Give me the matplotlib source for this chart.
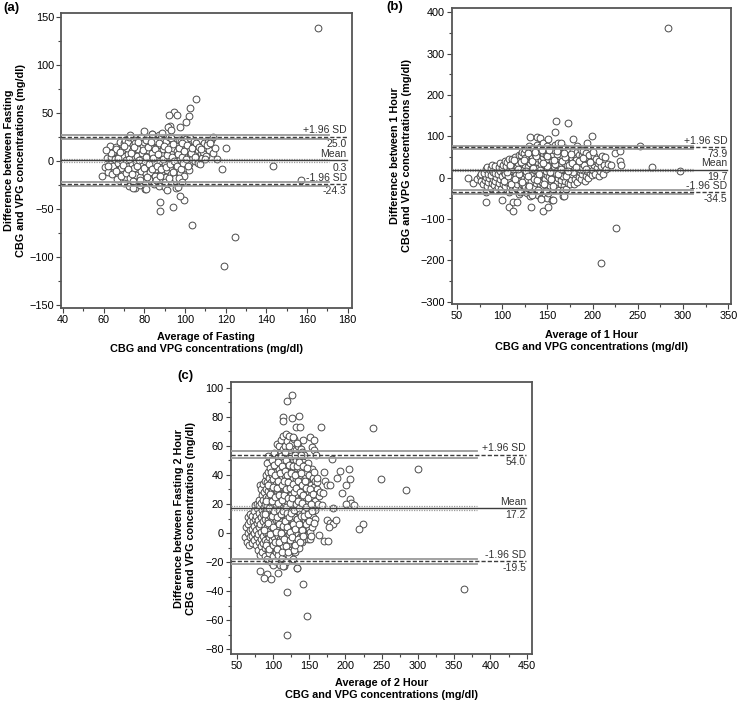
import numpy as np
import matplotlib
matplotlib.use('Agg')
import matplotlib.pyplot as plt
from matplotlib.ticker import MultipleLocator

plt.rcParams['font.family'] = ['Liberation Sans', 'DejaVu Sans']

# (average, difference) pairs, panel (a) fasting
fasting_pts = [
    (59.3,-16),(60.8,-7),(61.5,3),(62.2,-12),(62.9,15),(63.4,4),(63.1,-3),
    (64.2,-14),(64.8,-6),(65.3,2),(64.5,9),(65.9,14),(66.4,-19),
    (66.8,-10),(67.2,-2),(67.6,6),(66.1,12),(68.3,-16),(67.9,20),
    (68.7,-8),(69.1,0),(69.4,5),(68.9,11),(69.8,18),(70.2,-23),(70.5,22),
    (70.9,-13),(71.3,-5),(71.0,1),(71.7,7),(71.4,13),(72.1,19),(72.6,25),(72.3,-26),
    (73.0,-18),(73.4,-10),(73.8,-3),(73.2,4),(74.1,10),(74.5,16),(74.9,22),(72.8,27),(74.2,-21),
    (75.3,-28),(75.7,-15),(75.1,-8),(76.0,-1),(76.4,5),(76.8,12),(75.6,18),(77.2,23),
    (77.6,-25),(77.9,-17),(78.3,-11),(78.7,-4),(78.1,2),(79.0,8),(79.4,15),(79.8,20),(78.5,25),
    (80.2,-22),(80.6,-14),(81.0,-7),(80.4,0),(81.3,6),(81.7,11),(82.1,17),(80.9,22),(80.0,31),(80.3,-30),
    (82.5,-19),(82.9,-12),(83.3,-5),(82.7,1),(83.7,8),(84.1,14),(84.5,19),(83.5,24),(83.9,28),
    (84.9,-24),(85.3,-16),(85.7,-9),(85.1,-2),(86.1,4),(86.5,10),(86.9,16),(85.5,21),(87.3,27),
    (87.7,-20),(88.1,-13),(88.5,-6),(87.9,0),(88.9,6),(89.3,12),(89.7,18),(88.3,24),(88.8,29),(87.4,-26),
    (90.1,-27),(90.5,-17),(90.9,-10),(90.3,-3),(91.3,3),(91.7,9),(92.1,15),(90.7,21),(91.9,25),(91.3,-31),
    (92.5,-22),(92.9,-14),(93.3,-7),(92.7,0),(93.7,7),(94.1,13),(94.5,19),(93.1,24),
    (94.9,-18),(95.3,-9),(95.7,-2),(95.1,4),(96.1,10),(96.5,16),(96.9,22),(95.5,-28),
    (97.3,-23),(97.7,-13),(98.1,-5),(97.5,2),(98.5,9),(98.9,15),(97.9,21),(99.3,24),
    (99.7,-16),(100.1,-8),(100.5,-1),(99.9,6),(100.9,13),(101.3,19),(100.3,23),
    (101.7,-10),(102.1,-3),(102.5,5),(101.9,11),(103.0,17),(102.4,24),
    (103.6,2),(104.0,9),(104.5,15),(104.2,21),(105.0,0),(105.5,7),(105.8,13),
    (106.4,-2),(106.8,4),(106.2,11),(107.5,-3),(107.8,8),(108.5,3),(109.0,9),
    (108.8,16),(109.5,18),(110.2,5),(110.8,13),(111.4,20),(112.0,11),(112.7,22),
    (113.5,25),(113.9,8),(114.6,13),(115.6,2),
    (65.8,-11),(67.0,3),(68.0,9),(69.5,-4),(70.0,15),(71.8,-9),(72.5,2),(73.5,8),
    (74.0,-14),(75.0,14),(76.2,-5),(76.9,20),(77.5,1),(78.0,-20),(79.2,11),(79.8,-8),
    (80.8,4),(81.5,-17),(81.9,14),(82.3,-3),(83.0,20),(83.8,-9),(84.3,3),(85.0,12),
    (85.8,-20),(86.3,-5),(86.8,7),(87.2,18),(87.6,-16),(88.4,-9),(89.0,2),(89.5,15),
    (89.9,-22),(90.6,-7),(91.0,6),(91.5,12),(92.3,-18),(92.8,-3),(93.5,4),(93.9,17),
    (94.3,-12),(94.8,0),(95.9,-6),(96.3,7),(96.8,13),(97.1,-18),(97.8,-9),(98.3,4),
    (98.7,18),(99.1,-2),(99.5,10),(100.4,2),(100.8,16),(101.5,-6),(102.8,8),(103.4,13),
    (104.8,4),(105.2,18),(63.5,8),(62.0,-6),(61.0,11),(106.9,14),(108.0,12),(109.8,2),
    (111.0,16),(112.4,18),
    (165.3,138.6),(105.5,64),(102.2,55.3),(94.8,50.5),(96.2,47.7),(92.0,47.7),
    (101.7,46.7),(100.6,40.4),(97.3,35.6),(92.7,36.3),(91.6,35.6),(93.2,32.4),
    (83.9,27.6),(120.2,13.7),(118.1,-8.5),(143.2,-5.0),(157.1,-19.9),(87.8,-42.8),
    (87.5,-52.2),(94.0,-48.0),(99.4,-40.7),(97.3,-36.6),(103.5,-67.1),(124.5,-79.6),
    (119.1,-110.1),(81.0,-29.6),(74.4,-28.3),(96.5,-27.9),(98.3,-22.7),
]

# panel (b) 1 hour
hour1_pts = [
    (62,0),(68,-12),(72.5,-3),(75.5,4),(77,-8),(76.5,10),
    (79,-15),(80.5,-5),(81.5,2),(79.5,12),(82,20),(81.8,-34),
    (83,-20),(84.5,-10),(85.5,0),(84,8),(86,18),(83.5,25),(81.8,-58),
    (87,-25),(88.5,-12),(89.5,-3),(87.5,6),(90,15),(88,24),(89,30),
    (91,-18),(92.5,-8),(93.5,2),(91.5,11),(94,20),(92,28),(93,-30),
    (95,-22),(96.5,-12),(97.5,-2),(95.5,8),(98,17),(96,26),(97,35),
    (99,-27),(100.5,-15),(101.5,-5),(99.5,5),(102,14),(100,23),(101,32),(103,40),(100,-54),
    (103,-20),(104.5,-10),(105.5,0),(103.5,10),(106,19),(104,28),(105,38),(107,45),
    (107,-35),(108.5,-22),(109.5,-12),(107.5,-2),(110,8),(108,17),(109,27),(111,36),(110.5,46),(107.7,-70),
    (111,-30),(112.5,-18),(113.5,-8),(111.5,2),(114,12),(112,22),(113,31),(115,40),(114.5,50),(112,-80),(111.4,-59),
    (115,-25),(116.5,-14),(117.5,-4),(115.5,6),(118,16),(116,26),(117,35),(119,45),(118.5,55),(116.6,-59),
    (119,-40),(120.5,-28),(121.5,-16),(119.5,-6),(122,4),(120,14),(121,24),(123,34),(122.5,44),(120.5,54),(121.5,62),
    (123,-33),(124.5,-20),(125.5,-10),(123.5,0),(126,10),(124,20),(125,30),(127,40),(126.5,50),(124.5,60),(125.5,70),(125,-21),
    (127,-38),(128.5,-26),(129.5,-14),(127.5,-4),(130,6),(128,16),(129,26),(131,36),(130.5,46),(128.5,56),(129.5,66),(130,76),
    (131,-45),(132.5,-30),(133.5,-18),(131.5,-8),(134,2),(132,12),(133,22),(135,32),(134.5,42),(132.5,52),(133.5,62),(134,72),(130.6,99.6),(131.7,-70),
    (135,-35),(136.5,-22),(137.5,-12),(135.5,-2),(138,8),(136,18),(137,28),(139,38),(138.5,48),(136.5,58),(137.5,68),(138,80),(138,98),
    (139,-42),(140.5,-28),(141.5,-16),(139.5,-6),(142,4),(140,14),(141,24),(143,34),(142.5,44),(140.5,54),(141.5,64),(142,74),(141.7,95.6),
    (143,-50),(144.5,-32),(145.5,-20),(143.5,-10),(146,0),(144,10),(145,20),(147,30),(146.5,40),(144.5,50),(145.5,60),(146,72),(145,85),(144.7,-79.6),
    (147,-45),(148.5,-25),(149.5,-14),(147.5,-4),(150,6),(148,16),(149,26),(151,36),(150.5,46),(148.5,56),(149.5,66),(150,78),(149,-48),
    (151,-38),(152.5,-20),(153.5,-8),(151.5,2),(154,12),(152,22),(153,32),(155,42),(154.5,52),(152.5,62),(153.5,72),(151,93),(151,-71.5),
    (155,-55),(156.5,-28),(157.5,-15),(155.5,-4),(158,8),(156,18),(157,28),(159,38),(158.5,48),(156.5,58),(157.5,68),(158,80),(158,110),
    (159,-22),(160.5,-10),(161.5,0),(159.5,12),(162,22),(160,32),(161,42),(163,52),(162.5,62),(160.5,72),(161.5,85),(159,137.6),
    (163,-30),(164.5,-16),(165.5,-5),(163.5,6),(166,16),(164,26),(165,36),(167,46),(166.5,56),(164.5,66),(165.5,76),(164.7,85),
    (167,-44),(168.5,-20),(169.5,-8),(167.5,4),(170,14),(168,24),(169,34),(171,44),(170.5,54),(168.5,64),(169.5,72),(167.6,-29.5),
    (171,-28),(172.5,-12),(173.5,0),(171.5,10),(174,20),(172,30),(173,40),(175,50),(174.5,60),(172.5,70),(173,132),
    (175,-16),(176.5,-4),(177.5,8),(175.5,18),(178,28),(176,38),(177,48),(179,58),(178.5,68),(178.7,93),
    (179,-14),(180.5,-2),(181.5,10),(179.5,20),(182,30),(180,40),(181,50),(183,62),(182.5,76),
    (183,-10),(184.5,2),(185.5,14),(183.5,24),(186,34),(184,44),(185,56),(187,68),
    (187,-4),(188.5,8),(189.5,18),(187.5,28),(190,40),(188,52),(189,64),
    (191,-8),(192.5,4),(193.5,16),(191.5,26),(194,36),(192,48),(193,60),(194,83),
    (195,0),(196.5,12),(197.5,22),(195.5,32),(198,44),(196,56),(199,101),
    (199,6),(200.5,18),(201.5,30),(199.5,40),(202,52),(200,62),
    (203,10),(204.5,24),(205.5,36),(203.5,46),
    (207,4),(208.5,16),(209.5,28),(207.5,40),(210,52),
    (211,8),(212.5,30),(213.5,50),(215,20),(217,34),(220,30),(225,61),
    (229.8,65),(229.8,41.6),(231,32),
    (102,-8),(106,4),(110,-16),(114,-2),(118,8),(122,-10),(126,16),(130,-20),(134,24),
    (138,-6),(142,18),(146,-14),(150,28),(154,-2),(158,34),(162,10),(166,40),(170,4),
    (174,30),(178,14),(182,44),(186,20),(190,32),(105,14),(109,32),(113,44),(117,20),
    (121,38),(125,48),(129,4),(133,40),(137,52),(141,8),(145,36),(149,52),(153,14),
    (157,44),(161,58),(165,22),(169,50),(173,16),(177,36),(181,26),(185,40),(189,48),
    (193,22),(197,38),(128,60),(136,62),(144,66),(152,68),(160,64),(168,60),(176,58),
    (124,44),(132,-36),(140,-30),(148,-32),(156,-20),(120,-34),
    (283,362),(209,-207),(226,-121),(297,17),(265.7,27),(252.7,77),
    (168.4,-43.3),(132.4,-41.6),(155.8,-53.7),(143,-52),
]

# panel (c) 2 hour
hour2_pts = [
    (62,-3),(63,4),(64.5,-6),(65.5,0),(66,6),(65,11),
    (67.5,-8),(68.5,-3),(68,2),(69,8),(67.8,13),
    (70.5,-7),(71.5,-2),(71,3),(72,8),(70.8,12),
    (73.5,-5),(74.5,0),(74,5),(75,10),(73.8,15),(74.6,19),
    (76.5,-8),(77.5,-3),(77,2),(78,7),(76.8,12),(77.6,17),(78.4,20),
    (79.5,-12),(80.5,-6),(80,-1),(81,4),(79.8,9),(80.6,14),(81.4,19),(80.2,23),(82.2,33),
    (82.5,-15),(83.5,-9),(83,-4),(84,1),(82.8,6),(83.6,11),(84.4,16),(83.2,21),(84.8,26),(83.9,30),
    (85.5,-13),(86.5,-7),(86,-2),(87,3),(85.8,8),(86.6,13),(87.4,18),(86.2,23),(87.8,28),(86.9,34),
    (88.5,-16),(89.5,-10),(89,-5),(90,0),(88.8,5),(89.6,10),(90.4,15),(89.2,20),(90.8,25),(89.9,30),(88.7,36),(90.3,40),
    (91.5,-18),(92.5,-12),(92,-6),(93,-1),(91.8,4),(92.6,9),(93.4,14),(92.2,19),(93.8,24),(92.9,29),(91.7,35),(93.3,42),(92.1,48),(93.1,53),
    (94.5,-14),(95.5,-8),(95,-3),(96,2),(94.8,7),(95.6,12),(96.4,17),(95.2,22),(96.8,27),(95.9,32),(94.7,38),(96.3,45),
    (97.5,-20),(98.5,-11),(98,-5),(99,0),(97.8,5),(98.6,10),(99.4,15),(98.2,20),(99.8,25),(98.9,30),(97.7,35),(99.3,40),(98.1,50),
    (100.5,-16),(101.5,-9),(101,-3),(102,2),(100.8,7),(101.6,12),(102.4,17),(101.2,22),(102.8,27),(101.9,32),(100.7,37),(102.3,43),(101.1,55),(100.5,-22),
    (103.5,-19),(104.5,-13),(104,-6),(105,-1),(103.8,4),(104.6,9),(105.4,14),(104.2,19),(105.8,24),(104.9,29),(103.7,34),(105.3,39),(104.1,46),(105,61),
    (106.5,-15),(107.5,-8),(107,-2),(108,3),(106.8,8),(107.6,13),(108.4,18),(107.2,23),(108.8,28),(107.9,33),(106.7,38),(108.3,44),(107.1,52),(108,60),
    (109.5,-22),(110.5,-11),(110,-4),(111,1),(109.8,6),(110.6,11),(111.4,16),(110.2,21),(111.8,26),(110.9,31),(109.7,36),(111.3,41),(110.1,48),(111,56),(110.5,64),
    (112.5,-17),(113.5,-9),(113,-2),(114,3),(112.8,8),(113.6,13),(114.4,18),(113.2,23),(114.8,28),(113.9,33),(112.7,38),(114.3,44),(113.1,50),(114,58),(113.5,67),(114.4,80),(114.4,77.3),
    (115.5,-23),(116.5,-14),(116,-6),(117,0),(115.8,5),(116.6,10),(117.4,15),(116.2,20),(117.8,25),(116.9,30),(115.7,35),(117.3,40),(116.1,46),(117,53),(116.5,60),(117.5,68),
    (118.5,-20),(119.5,-11),(119,-3),(120,2),(118.8,7),(119.6,12),(120.4,17),(119.2,22),(120.8,27),(119.9,32),(118.7,37),(120.3,43),(119.1,49),(120,56),(119.5,63),(119,-40.3),(119,-70.1),(119.4,90.8),
    (121.5,-16),(122.5,-8),(122,-1),(123,4),(121.8,9),(122.6,14),(123.4,19),(122.2,24),(123.8,29),(122.9,34),(121.7,39),(123.3,45),(122.1,52),(123,59),(122.5,67),
    (124.5,-12),(125.5,-5),(125,1),(126,6),(124.8,11),(125.6,16),(126.4,21),(125.2,26),(126.8,31),(125.9,36),(124.7,42),(126.3,48),(125.1,55),(126,62),(125.9,79),(126.3,94.7),
    (127.5,-18),(128.5,-9),(128,-2),(129,3),(127.8,8),(128.6,13),(129.4,18),(128.2,23),(129.8,28),(128.9,33),(127.7,38),(129.3,44),(128.1,51),(129,58),(128.5,65),
    (130.5,-13),(131.5,-5),(131,0),(132,6),(130.8,11),(131.6,16),(132.4,21),(131.2,26),(132.8,31),(131.9,37),(130.7,43),(132.3,50),(131.1,57),(131.4,73.2),
    (133,-24),(134.5,-8),(134,-1),(135,5),(133.8,10),(134.6,15),(135.4,20),(134.2,26),(135.8,32),(134.9,38),(133.7,45),(135.3,52),(134.1,60),
    (136.5,-10),(137.5,-3),(137,3),(138,9),(136.8,14),(137.6,19),(138.4,25),(137.2,31),(138.8,37),(137.9,44),(136.7,51),(138.3,58),(137.4,72.7),(136,80.7),
    (139.5,-6),(140.5,0),(140,6),(141,12),(139.8,18),(140.6,24),(141.4,30),(140.2,36),(141.8,42),(140.9,49),(139.7,56),(141.3,64),
    (142,-35),(143.5,-4),(143,3),(144,9),(142.8,15),(143.6,21),(144.4,27),(143.2,33),(144.8,40),(143.9,47),(142.7,54),
    (145.5,-2),(146.5,5),(146,11),(147,17),(145.8,23),(146.6,29),(147.4,35),(146.2,42),(147.8,48),(146.6,-56.8),
    (148.5,-4),(149.5,3),(149,10),(150,16),(148.8,22),(149.6,28),(150.4,34),(149.2,40),(150.7,-4.1),
    (151.5,1),(152.5,8),(152,14),(153,20),(151.8,26),(152.6,33),(153.4,44),(151.6,66.3),(153.4,59.4),
    (154.5,4),(155.5,11),(155,18),(156,24),(154.8,31),(155.6,38),(156.3,57.1),(156.7,64),
    (157.5,10),(158.5,16),(158,22),(157,31.9),(159,53.7),(158.3,36),
    (160.4,30),(160.4,35.3),(161,37.9),(161.5,20),(162,27),
    (88,2),(89.5,13),(90.5,22),(91,-8),(92.5,33),(93.5,7),(94,-11),(95,17),(96,27),
    (96.5,-1),(97.5,42),(98,12),(99,22),(99.5,-8),(100,32),(100.5,4),(101.5,47),(102,15),
    (102.5,-6),(103,25),(103.5,40),(104.5,1),(105,11),(105.5,31),(106,-11),(106.5,21),
    (107,49),(107.5,36),(108,6),(108.5,16),(109,-6),(109,26),(110,41),(110.5,0),(111,53),
    (111.5,13),(112,33),(112,-13),(112.5,23),(113,46),(113.5,5),(114.5,15),(115,36),
    (115,-4),(115.5,26),(116,56),(116.5,43),(117,8),(117.5,18),(118,-9),(118,30),
    (118.5,50),(119,40),(119.5,4),(120,14),(120.5,24),(121,-13),(121,35),(121.5,60),
    (122,47),(122.5,11),(123,1),(123.5,21),(124,31),(124,-5),(124.5,53),(125,41),
    (125.5,14),(126,-3),(126.5,24),(127,34),(127,66),(127.5,46),(128,6),(128.5,-12),
    (129,16),(129.5,28),(130,40),(130,54),(130.5,3),(131,-8),(131.5,20),(132,31),
    (132.5,46),(133,10),(133.5,62),(134,-4),(134.5,22),(135,36),(135.5,49),(136,6),
    (136.5,17),(137,28),(137.5,-6),(138,41),(138.5,54),(139,12),(139.5,2),(140,21),
    (140.5,33),(141,46),(141.5,-2),(142,26),(143,12),(144,36),(145,6),(145.5,18),
    (146,31),(147,45),(148,13),(148.5,24),(150,8),(151,30),(152,20),(153,-2),(154,15),
    (155,27),(156,7),(157,42),
    (164,25.7),(165.2,28.5),(163,-1.3),(165.9,73.2),(168,19.3),(169.7,27.3),
    (170.5,41.8),(172,35.8),(174,33.3),(178.7,33.3),(181,51),(170.5,-5.2),(176.5,-5.2),
    (174,9),(178.7,7.1),(183.3,6),(186.5,9),(177.4,4.4),(183.3,17),
    (192.5,42.9),(205,43.8),(206.5,37),(201,33),(195,27.8),(189,37.9),(206,23.2),(208,21),(212,19.3),(201,20),
    (224.7,6),(218.3,2.8),(238.5,72),(300.6,44),(248.6,37),(283.6,29.8),(364,-38.3),
    (82.2,-25.9),(91.4,-28.2),(88.2,-30.9),(97.4,-31.8),(107.5,-27.3),(114,-23),(133,-24),
]

# mean difference and limits of agreement with their confidence half-widths
fasting_stats = dict(mean=0.3, mean_ci=1.3, lo=-24.3, lo_ci=2.2, hi=25.0, hi_ci=2.2)
hour1_stats = dict(mean=19.7, mean_ci=2.5, lo=-34.5, lo_ci=4.0, hi=73.9, hi_ci=4.0)
hour2_stats = dict(mean=17.2, mean_ci=1.2, lo=-19.5, lo_ci=1.8, hi=54.0, hi_ci=2.2)

dark = '#3c3c3c'
grey = '#9a9a9a'


def bland_altman(ax, pts, st, band_end, text_end, xlim, ylim, xmaj, ymaj, xlabel, ylabel, xlab_pos, ylab_pos):
    x, y = np.array(pts).T
    ax.scatter(x, y, s=24, facecolors='white', edgecolors='#4a4a4a', linewidths=0.7, zorder=3)
    x0 = xlim[0]

    # mean line: solid, CI dotted grey
    ax.plot([x0, text_end], [st['mean'], st['mean']], color=dark, lw=1.0, zorder=5)
    for v in (st['mean'] - st['mean_ci'], st['mean'] + st['mean_ci']):
        ax.plot([x0, band_end], [v, v], color=grey, lw=0.9, ls=(0, (1, 1)), zorder=4)

    # limits of agreement: dashed, CI solid grey
    for key in ('lo', 'hi'):
        v = st[key]
        c = st[key + '_ci']
        for w in (v - c, v + c):
            ax.plot([x0, band_end], [w, w], color=grey, lw=1.3, zorder=4)
        ax.plot([x0, text_end], [v, v], color=dark, lw=1.0, ls=(0, (3, 1.5)), zorder=5)

    tk = dict(ha='right', fontsize=7.5, color='#333333', textcoords='offset points')
    ax.annotate('+1.96 SD', (text_end, st['hi']), xytext=(0, 1), va='bottom', **tk)
    ax.annotate('%.1f' % st['hi'], (text_end, st['hi']), xytext=(0, -1.5), va='top', **tk)
    ax.annotate('Mean', (text_end, st['mean']), xytext=(0, 1), va='bottom', **tk)
    ax.annotate('%.1f' % st['mean'], (text_end, st['mean']), xytext=(0, -1.5), va='top', **tk)
    ax.annotate('-1.96 SD', (text_end, st['lo']), xytext=(0, 1), va='bottom', **tk)
    ax.annotate('%.1f' % st['lo'], (text_end, st['lo']), xytext=(0, -1.5), va='top', **tk)

    ax.set_xlim(*xlim)
    ax.set_ylim(*ylim)
    ax.xaxis.set_major_locator(MultipleLocator(xmaj))
    ax.xaxis.set_minor_locator(MultipleLocator(xmaj / 2))
    ax.yaxis.set_major_locator(MultipleLocator(ymaj))
    ax.yaxis.set_minor_locator(MultipleLocator(ymaj / 2))
    ax.tick_params(which='both', direction='out', color='#444444', width=0.8, labelsize=7.8, pad=1.5)
    ax.tick_params(which='major', length=3.5)
    ax.tick_params(which='minor', length=2)
    for s in ax.spines.values():
        s.set_color('#555555')
        s.set_linewidth(1.3)

    ax.set_xlabel(xlabel, fontsize=7.8, fontweight='bold', linespacing=1.25)
    ax.xaxis.set_label_coords(0.5, xlab_pos)
    ax.xaxis.label.set_verticalalignment('center')
    ax.set_ylabel(ylabel, fontsize=7.8, fontweight='bold', linespacing=1.25)
    ax.yaxis.set_label_coords(ylab_pos, 0.5)
    ax.yaxis.label.set_verticalalignment('center')


fig = plt.figure(figsize=(7.38, 7.02), dpi=100)

ax1 = fig.add_axes([0.0827, 0.5613, 0.394, 0.4202])
bland_altman(ax1, fasting_pts, fasting_stats, 171, 179.5, (39, 182), (-153.5, 154), 20, 50,
             'Average of Fasting\nCBG and VPG concentrations (mg/dl)',
             'Difference between Fasting\nCBG and VPG concentrations (mg/dl)', -0.12, -0.16)

ax2 = fig.add_axes([0.612, 0.567, 0.3785, 0.4217])
bland_altman(ax2, hour1_pts, hour1_stats, 311, 349, (44, 353), (-305.5, 411), 50, 100,
             'Average of 1 Hour\nCBG and VPG concentrations (mg/dl)',
             'Difference between 1 Hour\nCBG and VPG concentrations (mg/dl)', -0.124, -0.18)

ax3 = fig.add_axes([0.3126, 0.0684, 0.4079, 0.387])
bland_altman(ax3, hour2_pts, hour2_stats, 381, 449, (41.7, 457), (-83.2, 103.7), 50, 20,
             'Average of 2 Hour\nCBG and VPG concentrations (mg/dl)',
             'Difference between Fasting 2 Hour\nCBG and VPG concentrations (mg/dl)', -0.129, -0.152)

fig.text(0.005, 0.997, '(a)', fontsize=9.5, fontweight='bold', va='top')
fig.text(0.523, 0.999, '(b)', fontsize=9.5, fontweight='bold', va='top')
fig.text(0.240, 0.4725, '(c)', fontsize=9.5, fontweight='bold', va='top')

fig.savefig('out.png', dpi=100)
